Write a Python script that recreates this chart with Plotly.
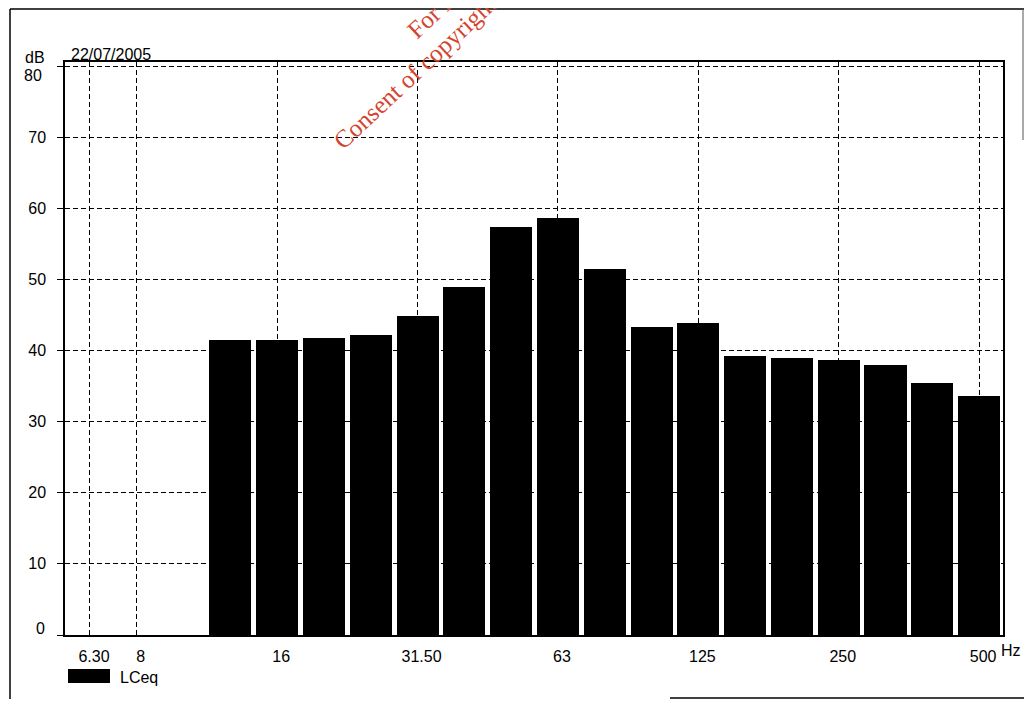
import math
import plotly.graph_objects as go

# ---- data ----
band_freqs = [12.5, 16, 20, 25, 31.5, 40, 50, 63, 80, 100, 125, 160, 200, 250, 315, 400, 500]
lceq_db = [41.5, 41.5, 41.8, 42.2, 44.8, 48.9, 57.3, 58.6, 51.5, 43.3, 43.9, 39.2, 39.0, 38.6, 37.9, 35.5, 33.6]
tick_freqs = [6.3, 8, 16, 31.5, 63, 125, 250, 500]
tick_labels = ["6.30", "8", "16", "31.50", "63", "125", "250", "500"]
y_ticks = [0, 10, 20, 30, 40, 50, 60, 70, 80]
y_labels = ["0", "10", "20", "30", "40", "50", "60", "70", "80"]
series_name = "LCeq"
date_text = "22/07/2005"


def band_no(f):
    # third-octave band number (10*log10 f)
    return round(10 * math.log10(f))


x_bars = [band_no(f) for f in band_freqs]
x_ticks = [band_no(f) for f in tick_freqs]

FONT = "Liberation Sans, Arial, sans-serif"
OFF = 8  # default page body margin
W, H = 1035 - 2 * OFF, 707 - 2 * OFF
# plot area in page pixels
PL, PR, PT, PB = 65, 1003, 62, 635
L, R, T, B = PL - OFF, W - (PR - OFF), PT - OFF, H - (PB - OFF)
PW, PH = PR - PL, PB - PT
Y_TOP = 80 + 4 / (PH / 80.5)


def px(xp):
    return (xp - PL) / PW


def py(yp):
    return (PB - yp) / PH


fig = go.Figure()
fig.add_trace(go.Bar(
    x=x_bars, y=lceq_db, width=0.9, name=series_name,
    marker=dict(color="black", line=dict(width=0)),
    showlegend=False,
))

grid = dict(showgrid=True, gridcolor="black", gridwidth=1, griddash="5px,3px")

# inner labels (0 and 80) are drawn nudged inside the frame, as in the original
y_ticktext = [("" if v in (y_ticks[0], y_ticks[-1]) else t) for v, t in zip(y_ticks, y_labels)]

fig.update_layout(
    width=W, height=H,
    margin=dict(l=L, r=R, t=T, b=B, pad=0, autoexpand=False),
    paper_bgcolor="white", plot_bgcolor="white",
    font=dict(family=FONT, size=16, color="black"),
    bargap=0,
    xaxis=dict(
        range=[7.466, 27.51], tickmode="array", tickvals=x_ticks, ticktext=tick_labels,
        ticks="", showline=True, linecolor="black", linewidth=1.5, mirror=True,
        zeroline=False, ticklabelstandoff=6, ticklabelshift=4,
        tickfont=dict(family=FONT, size=16, color="black"), **grid,
    ),
    yaxis=dict(
        range=[0, Y_TOP], tickmode="array", tickvals=y_ticks, ticktext=y_ticktext,
        ticks="outside", ticklen=6, tickcolor="black", tickwidth=1,
        showline=True, linecolor="black", linewidth=1.5, mirror=True,
        zeroline=False, ticklabelstandoff=8,
        tickfont=dict(family=FONT, size=16, color="black"), **grid,
    ),
)

txt = dict(family=FONT, size=16, color="black")
ann = []
ann.append(dict(text=y_labels[-1], x=px(44), y=py(75), xref="paper", yref="paper",
                xanchor="right", yanchor="middle", showarrow=False, font=txt))
ann.append(dict(text=y_labels[0], x=px(47), y=py(628), xref="paper", yref="paper",
                xanchor="right", yanchor="middle", showarrow=False, font=txt))
ann.append(dict(text="dB", x=px(35), y=py(57), xref="paper", yref="paper",
                xanchor="center", yanchor="middle", showarrow=False, font=txt))
ann.append(dict(text=date_text, x=px(69), y=py(55), xref="paper", yref="paper",
                xanchor="left", yanchor="middle", showarrow=False, font=txt))
ann.append(dict(text="Hz", x=px(1023), y=py(650), xref="paper", yref="paper",
                xanchor="right", yanchor="middle", showarrow=False, font=txt))
ann.append(dict(text=series_name, x=px(118), y=py(677), xref="paper", yref="paper",
                xanchor="left", yanchor="middle", showarrow=False, font=txt))
# watermark
wm = dict(family="Liberation Serif, Times New Roman, serif", size=25, color="#d4452f")
ann.append(dict(text="For inspection purposes only.", x=px(519), y=py(-66),
                xref="paper", yref="paper", xanchor="center", yanchor="middle",
                textangle=-43, showarrow=False, font=wm))
ann.append(dict(text="Consent of copyright owner required for any other use.",
                x=px(539), y=py(-43), xref="paper", yref="paper",
                xanchor="center", yanchor="middle", textangle=-43,
                showarrow=False, font=wm))
fig.update_layout(annotations=ann)

shapes = []
# legend swatch
shapes.append(dict(type="rect", xref="paper", yref="paper",
                   x0=px(68), x1=px(110), y0=py(669), y1=py(683),
                   fillcolor="black", line=dict(width=0)))
# outer frame (scanned page border)
frame = dict(color="black", width=1.5)
shapes.append(dict(type="line", xref="paper", yref="paper",
                   x0=px(10), x1=px(1024), y0=py(9), y1=py(9), line=frame))
shapes.append(dict(type="line", xref="paper", yref="paper",
                   x0=px(10), x1=px(10), y0=py(9), y1=py(700), line=frame))
shapes.append(dict(type="line", xref="paper", yref="paper",
                   x0=px(1023), x1=px(1023), y0=py(9), y1=py(140),
                   line=dict(color="#555555", width=1)))
shapes.append(dict(type="line", xref="paper", yref="paper",
                   x0=px(670), x1=px(1024), y0=py(698), y1=py(698), line=frame))
fig.update_layout(shapes=shapes)

fig.write_html("out.html")
